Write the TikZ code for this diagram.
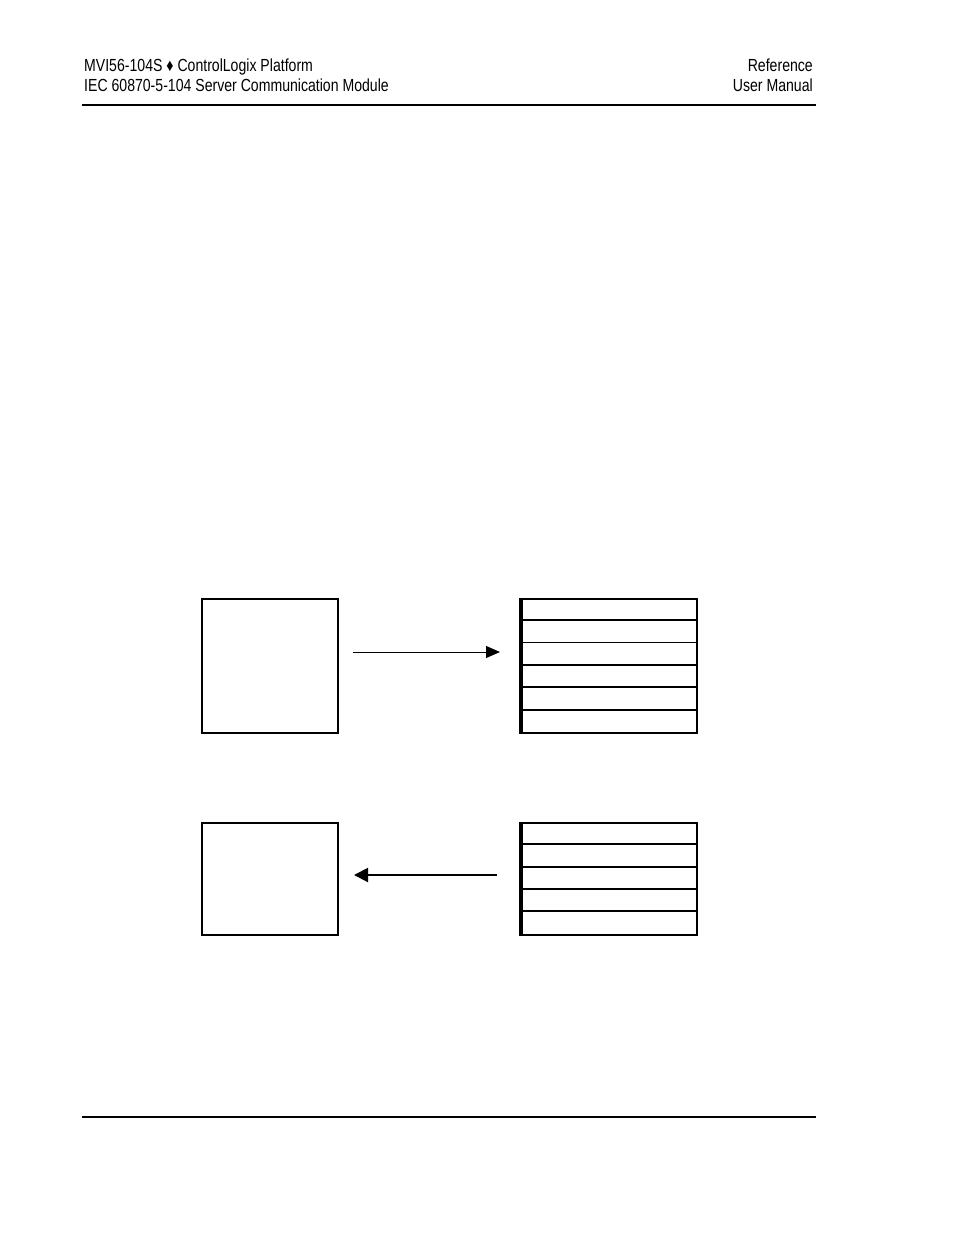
\documentclass[tikz,border=0pt]{standalone}
\usepackage{fontspec}
\setmainfont{Liberation Sans}[FakeStretch=0.805]
\usetikzlibrary{arrows.meta}
\tikzset{
  hdr/.style={inner sep=0pt, font=\fontsize{17.5}{21}\selectfont},
  rule/.style={line width=1.3pt},
  plainbox/.style={draw, line width=2pt, inner sep=0pt, anchor=north west},
  rowline/.style={line width=2pt},
  thinrow/.style={line width=1pt},
  flowarrow/.style={-{Triangle[length=14pt,width=12pt]}},
}
\begin{document}
\begin{tikzpicture}[x=1pt,y=-1pt]
\useasboundingbox (0,0) rectangle (954,1235);
% header
\node[hdr, anchor=base west] (h1) at (84,71) {MVI56-104S ♦ ControlLogix Platform};
\node[hdr, anchor=base west] (h2) at (84,91) {IEC 60870-5-104 Server Communication Module};
\node[hdr, anchor=base east] (h3) at (813,71) {Reference};
\node[hdr, anchor=base east] (h4) at (813,91) {User Manual};
\coordinate (hl1) at (82,105); \coordinate (hl2) at (816,105);
\draw[rule] (hl1) -- (hl2);
\coordinate (fl1) at (82,1117); \coordinate (fl2) at (816,1117);
\draw[rule] (fl1) -- (fl2);

% top pair
\node[plainbox, minimum width=136pt, minimum height=134pt] (lb1) at (200.5,597.5) {};
\node[plainbox, minimum width=175pt, minimum height=134pt] (rb1) at (520.5,597.5) {};
\draw[line width=3pt] (rb1.north west) -- (rb1.south west);
\draw[rowline] (520.5,620) -- (695.5,620);
\draw[thinrow] (520.5,642) -- (695.5,642);
\draw[rowline] (520.5,665) -- (695.5,665);
\draw[rowline] (520.5,687) -- (695.5,687);
\draw[rowline] (520.5,709.5) -- (695.5,709.5);
\coordinate (a1s) at (353,652); \coordinate (a1e) at (500,652);
\draw[flowarrow, line width=1pt] (a1s) -- (a1e);

% bottom pair
\node[plainbox, minimum width=136pt, minimum height=112pt] (lb2) at (200.5,821.5) {};
\node[plainbox, minimum width=175pt, minimum height=112pt] (rb2) at (520.5,821.5) {};
\draw[line width=3pt] (rb2.north west) -- (rb2.south west);
\draw[rowline] (520.5,844) -- (695.5,844);
\draw[rowline] (520.5,866.5) -- (695.5,866.5);
\draw[rowline] (520.5,889) -- (695.5,889);
\draw[rowline] (520.5,911) -- (695.5,911);
\coordinate (a2s) at (497,875); \coordinate (a2e) at (354,875);
\draw[-{Triangle[length=14pt,width=14pt]}, line width=2pt] (a2s) -- (a2e);
\end{tikzpicture}
\end{document}
